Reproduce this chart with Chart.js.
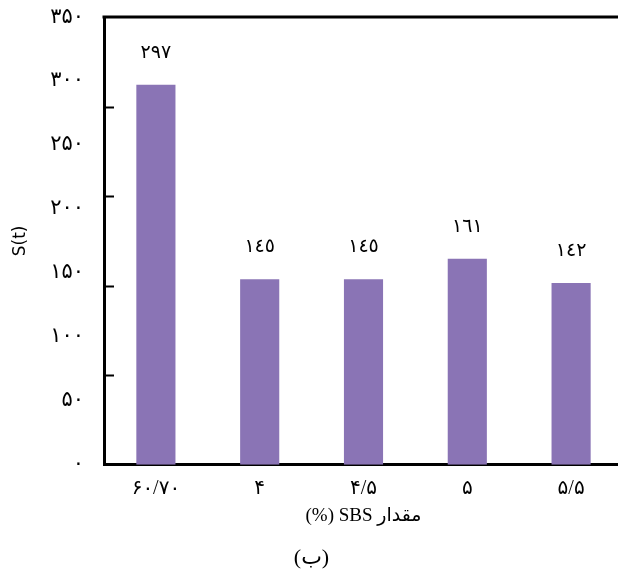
<!DOCTYPE html>
<html>
<head>
<meta charset="utf-8">
<script src="https://cdn.jsdelivr.net/npm/chart.js@4.4.1/dist/chart.umd.min.js"></script>
<style>
  html, body { margin: 0; padding: 0; background: #fff; overflow: hidden; }
  #wrap { width: 630px; height: 577px; }
</style>
</head>
<body>
<div id="wrap"><canvas id="sbsChart" width="630" height="577"></canvas></div>
<script>
/* ── Data ─────────────────────────────────────────────── */
const categories = ['۶۰/۷۰', '۴', '۴/۵', '۵', '۵/۵'];
const sValues    = [297, 145, 145, 161, 142];
const yTicks     = [0, 50, 100, 150, 200, 250, 300, 350];
const innerTicks = [70, 140, 210, 280];

const FONT = "'Liberation Serif', 'DejaVu Sans', serif";

function toPersian(n) {
  return String(n).replace(/\d/g, d => '۰۱۲۳۴۵۶۷۸۹'[d]);
}
function toArabicIndic(n) {
  return String(n).replace(/\d/g, d => '٠١٢٣٤٥٦٧٨٩'[d]);
}
// right-to-left embedding so the Persian word sits on the right
function rtl(s) { return '\u202B' + s + '\u202C'; }

/* ── Plugin: top border, inner tick marks, value labels ── */
const decorPlugin = {
  id: 'decor',
  afterDatasetsDraw(chart) {
    const { ctx, chartArea, scales } = chart;
    ctx.save();
    ctx.strokeStyle = '#000';
    ctx.lineWidth = 3;
    ctx.beginPath();
    ctx.moveTo(chartArea.left - 1.5, chartArea.top);
    ctx.lineTo(chart.width, chartArea.top);
    ctx.stroke();

    ctx.lineWidth = 2;
    innerTicks.forEach(v => {
      const y = Math.round(scales.y.getPixelForValue(v)) + 0.5;
      ctx.beginPath();
      ctx.moveTo(chartArea.left, y);
      ctx.lineTo(chartArea.left + 10, y);
      ctx.stroke();
    });

    ctx.fillStyle = '#000';
    ctx.font = '19px ' + FONT;
    ctx.textAlign = 'center';
    ctx.textBaseline = 'middle';
    chart.getDatasetMeta(0).data.forEach((bar, i) => {
      ctx.fillText(toArabicIndic(sValues[i]), bar.x, bar.y - 32);
    });
    ctx.restore();
  }
};

new Chart(document.getElementById('sbsChart'), {
  type: 'bar',
  data: {
    labels: categories,
    datasets: [{
      data: sValues,
      backgroundColor: '#8A74B5',
      borderWidth: 0,
      barPercentage: 0.377,
      categoryPercentage: 1.0,
    }]
  },
  options: {
    responsive: false,
    animation: false,
    layout: { padding: { top: 0, right: 7, left: 0, bottom: 6 } },
    plugins: {
      legend: { display: false },
      tooltip: { enabled: false },
      title: {
        display: true,
        position: 'bottom',
        text: rtl('(ب)'),
        color: '#000',
        font: { family: FONT, size: 22, weight: 'normal' },
        padding: { top: 17, bottom: 0 }
      }
    },
    scales: {
      x: {
        grid: { display: false, drawTicks: false },
        border: { display: true, color: '#000', width: 3 },
        ticks: { color: '#000', padding: 12, font: { family: FONT, size: 20 } },
        title: {
          display: true,
          text: rtl('مقدار SBS (%)'),
          color: '#000',
          font: { family: FONT, size: 19 },
          padding: { top: -8, bottom: 0 }
        }
      },
      y: {
        min: 0,
        max: 350,
        afterFit(scale) {
          scale.width = 104;
          scale.paddingTop = 17;
        },
        afterBuildTicks(scale) { scale.ticks = yTicks.map(v => ({ value: v })); },
        grid: { display: false, drawTicks: false },
        border: { display: true, color: '#000', width: 3 },
        ticks: {
          color: '#000',
          padding: 20,
          font: { family: FONT, size: 21 },
          callback: v => toPersian(v)
        },
        title: {
          display: true,
          text: 'S(t)',
          color: '#000',
          font: { family: "'DejaVu Sans', sans-serif", size: 17 },
          padding: { top: 10, bottom: 4 }
        }
      }
    }
  },
  plugins: [decorPlugin]
});
</script>
</body>
</html>
